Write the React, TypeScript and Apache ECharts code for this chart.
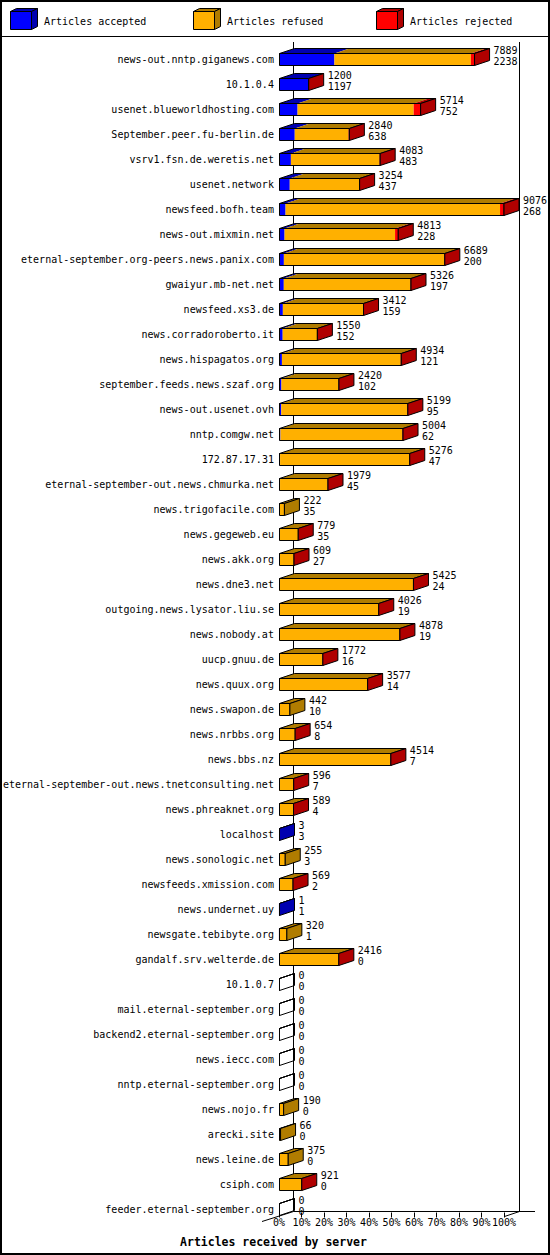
import * as echarts from "echarts";
import React, { useEffect, useRef } from "react";

// servers, top to bottom
const servers = [
  "news-out.nntp.giganews.com",
  "10.1.0.4",
  "usenet.blueworldhosting.com",
  "September.peer.fu-berlin.de",
  "vsrv1.fsn.de.weretis.net",
  "usenet.network",
  "newsfeed.bofh.team",
  "news-out.mixmin.net",
  "eternal-september.org-peers.news.panix.com",
  "gwaiyur.mb-net.net",
  "newsfeed.xs3.de",
  "news.corradoroberto.it",
  "news.hispagatos.org",
  "september.feeds.news.szaf.org",
  "news-out.usenet.ovh",
  "nntp.comgw.net",
  "172.87.17.31",
  "eternal-september-out.news.chmurka.net",
  "news.trigofacile.com",
  "news.gegeweb.eu",
  "news.akk.org",
  "news.dne3.net",
  "outgoing.news.lysator.liu.se",
  "news.nobody.at",
  "uucp.gnuu.de",
  "news.quux.org",
  "news.swapon.de",
  "news.nrbbs.org",
  "news.bbs.nz",
  "eternal-september-out.news.tnetconsulting.net",
  "news.phreaknet.org",
  "localhost",
  "news.sonologic.net",
  "newsfeeds.xmission.com",
  "news.undernet.uy",
  "newsgate.tebibyte.org",
  "gandalf.srv.welterde.de",
  "10.1.0.7",
  "mail.eternal-september.org",
  "backend2.eternal-september.org",
  "news.iecc.com",
  "nntp.eternal-september.org",
  "news.nojo.fr",
  "arecki.site",
  "news.leine.de",
  "csiph.com",
  "feeder.eternal-september.org",
];

// articles offered (upper number)
const offered = [
  7889, 1200, 5714, 2840, 4083, 3254, 9076, 4813, 6689, 5326, 3412, 1550,
  4934, 2420, 5199, 5004, 5276, 1979, 222, 779, 609, 5425, 4026, 4878, 1772,
  3577, 442, 654, 4514, 596, 589, 3, 255, 569, 1, 320, 2416, 0, 0, 0, 0, 0,
  190, 66, 375, 921, 0,
];

// articles accepted (lower number)
const accepted = [
  2238, 1197, 752, 638, 483, 437, 268, 228, 200, 197, 159, 152, 121, 102, 95,
  62, 47, 45, 35, 35, 27, 24, 19, 19, 16, 14, 10, 8, 7, 7, 4, 3, 3, 2, 1, 1,
  0, 0, 0, 0, 0, 0, 0, 0, 0, 0, 0,
];

// articles rejected (estimated from the red part)
const rejected = [
  150, 3, 280, 30, 25, 20, 160, 130, 20, 20, 15, 10, 20, 10, 20, 25, 20, 10,
  0, 5, 5, 20, 15, 20, 10, 15, 0, 5, 15, 5, 5, 0, 0, 5, 0, 0, 10, 0, 0, 0, 0,
  0, 0, 0, 0, 5, 0,
];

const legendLabels = ["Articles accepted", "Articles refused", "Articles rejected"];

const FONT = "'DejaVu Sans Mono', monospace";
const DX = 15;
const DY = 5;
const BAR_H = 12;

const colors = [
  { front: "#0000ff", dark: "#0000b0" },
  { front: "#ffb000", dark: "#b07c00" },
  { front: "#ff0000", dark: "#b00000" },
];

const maxOffered = Math.max(...offered);
const pct = (v: number) => (v / maxOffered) * 100;

const renderBar = (_params: any, api: any) => {
  const idx = api.value(0);
  const vals = [api.value(1), api.value(2), api.value(3)];
  const total = api.value(4);
  const acc = api.value(5);
  const origin = api.coord([0, idx]);
  const x0 = Math.round(origin[0]) + 0.5;
  const yc = origin[1];
  const yT = Math.round(yc - BAR_H / 2) + 0.5;
  const yB = yT + BAR_H;
  const fronts: any[] = [];
  const tops: any[] = [];
  let cum = 0;
  let last = -1;
  vals.forEach((v: number, i: number) => {
    if (v <= 0) return;
    const xa = cum === 0 ? x0 : api.coord([cum, idx])[0];
    cum += v;
    const xb = api.coord([cum, idx])[0];
    fronts.push({
      type: "rect",
      shape: { x: xa, y: yT, width: xb - xa, height: BAR_H },
      style: { fill: colors[i].front },
    });
    tops.push({
      type: "polygon",
      shape: { points: [[xa, yT], [xb, yT], [xb + DX, yT - DY], [xa + DX, yT - DY]] },
      style: { fill: colors[i].dark },
    });
    last = i;
  });
  const xe = cum > 0 ? Math.max(x0, api.coord([cum, idx])[0]) : x0;
  const children = [
    ...fronts,
    ...tops,
    {
      type: "rect",
      shape: { x: x0, y: yT, width: xe - x0, height: BAR_H },
      style: { fill: "none", stroke: "#000", lineWidth: 1 },
    },
    {
      type: "polygon",
      shape: { points: [[x0, yT], [xe, yT], [xe + DX, yT - DY], [x0 + DX, yT - DY]] },
      style: { fill: "none", stroke: "#000", lineWidth: 1 },
    },
    {
      type: "polygon",
      shape: { points: [[xe, yT], [xe + DX, yT - DY], [xe + DX, yB - DY], [xe, yB]] },
      style: { fill: last >= 0 ? colors[last].dark : "none", stroke: "#000", lineWidth: 1 },
    },
    {
      type: "text",
      style: {
        text: String(total),
        x: xe + DX + 4,
        y: yc - 9,
        fill: "#000",
        font: "10px " + FONT,
        align: "left",
        verticalAlign: "middle",
      },
    },
    {
      type: "text",
      style: {
        text: String(acc),
        x: xe + DX + 4,
        y: yc + 2,
        fill: "#000",
        font: "10px " + FONT,
        align: "left",
        verticalAlign: "middle",
      },
    },
  ];
  return { type: "group", children };
};

const legendGraphics = () => {
  const out: any[] = [];
  const xs = [10.5, 193.5, 376.5];
  legendLabels.forEach((label, i) => {
    const x = xs[i];
    const y = 11.5;
    const w = 21;
    const h = 18;
    out.push(
      {
        type: "rect",
        shape: { x, y, width: w, height: h },
        style: { fill: colors[i].front, stroke: "#000", lineWidth: 1 },
      },
      {
        type: "polygon",
        shape: { points: [[x, y], [x + w, y], [x + w + 6, y - 3], [x + 6, y - 3]] },
        style: { fill: colors[i].dark, stroke: "#000", lineWidth: 1 },
      },
      {
        type: "polygon",
        shape: { points: [[x + w, y], [x + w + 6, y - 3], [x + w + 6, y + h - 3], [x + w, y + h]] },
        style: { fill: colors[i].dark, stroke: "#000", lineWidth: 1 },
      },
      {
        type: "text",
        style: {
          text: label,
          x: x + 33.5,
          y: 21,
          fill: "#000",
          font: "10px " + FONT,
          align: "left",
          verticalAlign: "middle",
        },
      }
    );
  });
  return out;
};

const App: React.FC = () => {
  const chartRef = useRef<HTMLDivElement | null>(null);

  useEffect(() => {
    const chart = echarts.init(chartRef.current, null, { renderer: "svg" });
    const data = servers.map((_, i) => {
      const refused = offered[i] - accepted[i] - rejected[i];
      return [i, pct(accepted[i]), pct(refused), pct(rejected[i]), offered[i], accepted[i]];
    });

    const wallStyle = { stroke: "#000", lineWidth: 1 };

    chart.setOption({
      animation: false,
      backgroundColor: "#fff",
      grid: { left: 278, top: 46.5, width: 226, height: 1175 },
      xAxis: {
        type: "value",
        min: 0,
        max: 100,
        interval: 10,
        offset: -9,
        axisLine: { show: false },
        axisTick: { show: true, length: 5, lineStyle: { color: "#000" } },
        splitLine: { show: false },
        axisLabel: {
          formatter: "{value}%",
          color: "#000",
          fontFamily: FONT,
          fontSize: 10,
          margin: 5,
        },
      },
      yAxis: {
        type: "category",
        inverse: true,
        data: servers,
        axisLine: { show: false },
        axisTick: { show: false },
        axisLabel: {
          color: "#000",
          fontFamily: FONT,
          fontSize: 10,
          margin: 5,
          interval: 0,
        },
      },
      series: [
        {
          type: "custom",
          renderItem: renderBar,
          data,
          encode: { x: [1, 2, 3], y: 0 },
          clip: false,
          z: 2,
        },
      ],
      graphic: [
        {
          type: "rect",
          z: 0,
          shape: { x: 1, y: 1, width: 548, height: 1253 },
          style: { fill: "none", stroke: "#000", lineWidth: 2 },
        },
        {
          type: "line",
          z: 0,
          shape: { x1: 0, y1: 36.5, x2: 550, y2: 36.5 },
          style: wallStyle,
        },
        {
          type: "line",
          z: 0,
          shape: { x1: 293.5, y1: 42, x2: 293.5, y2: 1211.5 },
          style: wallStyle,
        },
        {
          type: "line",
          z: 0,
          shape: { x1: 519.5, y1: 42, x2: 519.5, y2: 1211.5 },
          style: wallStyle,
        },
        {
          type: "line",
          z: 0,
          shape: { x1: 293.5, y1: 1211.5, x2: 535, y2: 1211.5 },
          style: wallStyle,
        },
        {
          type: "line",
          z: 0,
          shape: { x1: 262, y1: 1221.5, x2: 293.5, y2: 1211.5 },
          style: wallStyle,
        },
        {
          type: "line",
          z: 0,
          shape: { x1: 504.5, y1: 1216.5, x2: 519.5, y2: 1211.5 },
          style: wallStyle,
        },
        {
          type: "text",
          z: 0,
          style: {
            text: "Articles received by server",
            x: 273.5,
            y: 1242,
            fill: "#000",
            font: "bold 11.5px " + FONT,
            align: "center",
            verticalAlign: "middle",
          },
        },
        ...legendGraphics(),
      ],
    });

    return () => {
      chart.dispose();
    };
  }, []);

  return (
    <div
      ref={chartRef}
      style={{ position: "absolute", left: 0, top: 0, width: 550, height: 1255 }}
    ></div>
  );
};

export default App;
